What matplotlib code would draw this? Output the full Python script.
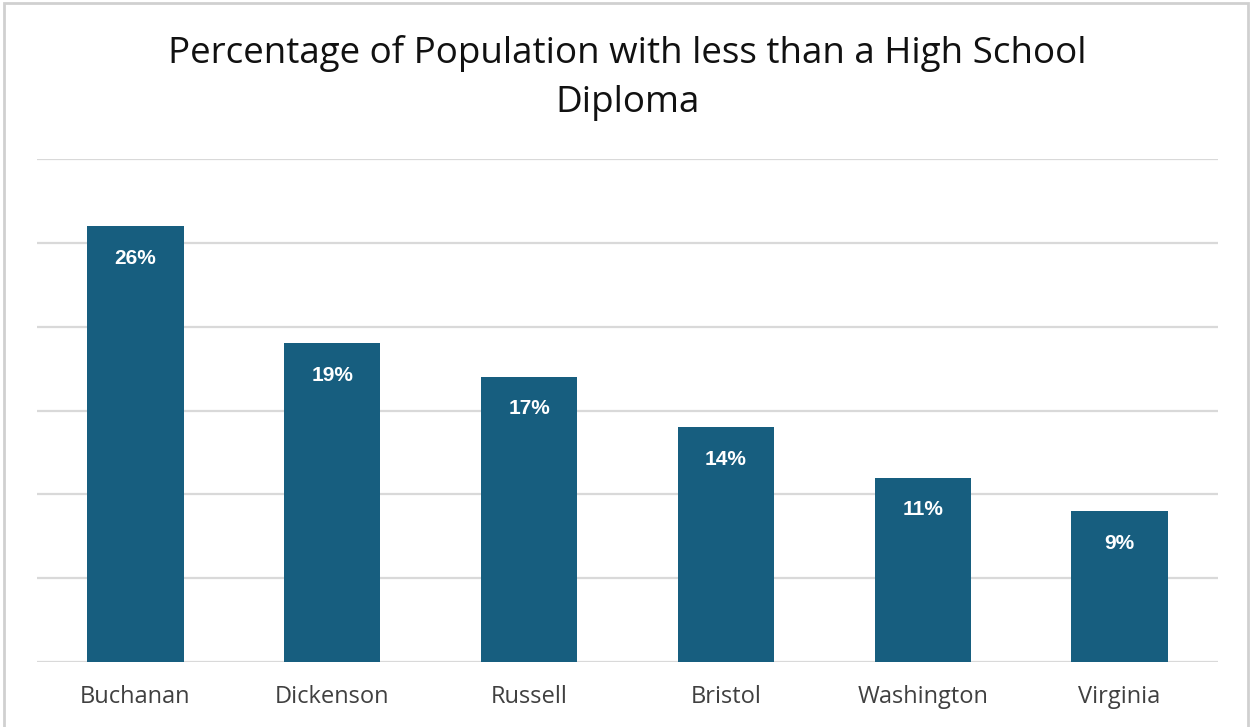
import matplotlib
matplotlib.use('Agg')
import matplotlib.pyplot as plt
from matplotlib.patches import Rectangle

# 数据
categories = ['Buchanan', 'Dickenson', 'Russell', 'Bristol', 'Washington', 'Virginia']
values = [26, 19, 17, 14, 11, 9]
value_labels = ['26%', '19%', '17%', '14%', '11%', '9%']

plt.rcParams['font.family'] = ['Open Sans', 'DejaVu Sans']

fig = plt.figure(figsize=(12.5, 7.27), dpi=100)
ax = fig.add_axes([0.0296, 0.0894, 0.9448, 0.6919])

bar_color = '#175E7F'
bars = ax.bar(range(len(categories)), values, width=0.49, color=bar_color, zorder=3)

# 柱内数值标签
for b, lab in zip(bars, value_labels):
    ax.annotate(lab, (b.get_x() + b.get_width() / 2, b.get_height()),
                xytext=(0, -23), textcoords='offset points', ha='center', va='center',
                color='white', fontsize=15, fontweight='bold',
                family=['Liberation Sans', 'DejaVu Sans'])

ax.set_xlim(-0.5, len(categories) - 0.5)
ax.set_ylim(0, 30)
ax.set_yticks(range(0, 31, 5))
ax.yaxis.grid(True, color='#D9D9D9', linewidth=1.6, zorder=0)
ax.tick_params(axis='y', left=False, labelleft=False)
ax.tick_params(axis='x', bottom=False, labelsize=17, labelcolor='#404040', pad=13)
ax.set_xticks(range(len(categories)))
ax.set_xticklabels(categories)
for s in ax.spines.values():
    s.set_visible(False)

fig.text(0.502, 0.893, 'Percentage of Population with less than a High School\nDiploma',
         ha='center', va='center', fontsize=26.5, color='#111111', linespacing=1.47)

# 外边框
fig.patches.append(Rectangle((0.0035, -0.01), 0.995, 1.006, transform=fig.transFigure,
                             fill=False, edgecolor='#D0D0D0', linewidth=2))

fig.savefig('out.png', dpi=100)
